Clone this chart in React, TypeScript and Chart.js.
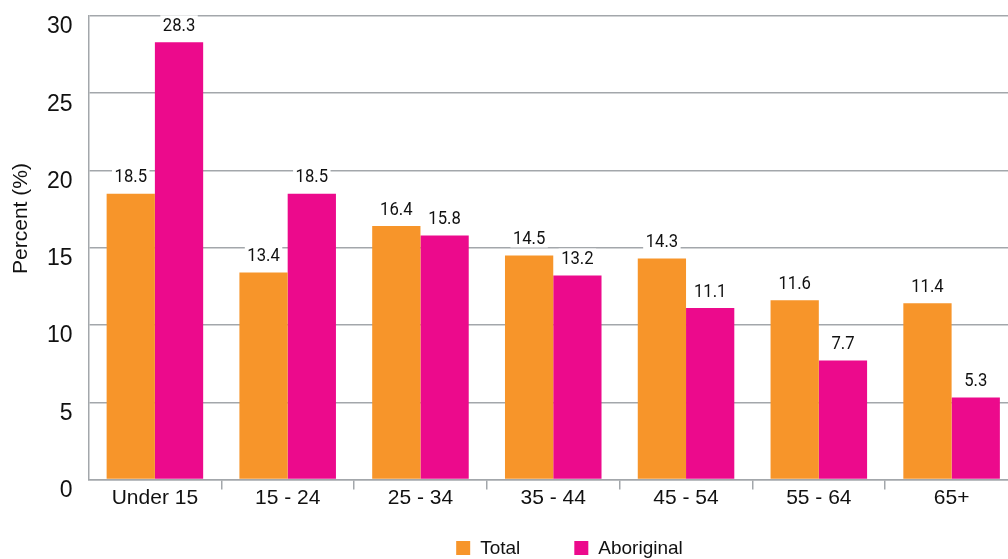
import React, { useEffect, useRef } from "react";
import { Chart, registerables } from "chart.js";

Chart.register(...registerables);

const categories = ["Under 15", "15 - 24", "25 - 34", "35 - 44", "45 - 54", "55 - 64", "65+"];
const totalValues = [18.5, 13.4, 16.4, 14.5, 14.3, 11.6, 11.4];
const aboriginalValues = [28.3, 18.5, 15.8, 13.2, 11.1, 7.7, 5.3];
const seriesNames = ["Total", "Aboriginal"];
const seriesColors = ["#F7952A", "#EC0A8C"];
const yMin = 0;
const yMax = 30;
const yStep = 5;
const yTitle = "Percent (%)";

const GRID = "#A3A7AB";
const TEXT = "#111111";
const SANS = "'Liberation Sans', Arial, sans-serif";

const valueLabelPlugin = {
  id: "valueLabels",
  afterDatasetsDraw(chart: any) {
    const ctx = chart.ctx;
    const sx = 0.9;
    chart.data.datasets.forEach((ds: any, di: number) => {
      const meta = chart.getDatasetMeta(di);
      meta.data.forEach((bar: any, i: number) => {
        const txt = Number(ds.data[i]).toFixed(1);
        ctx.save();
        ctx.font = "18.5px Roboto";
        ctx.textAlign = "center";
        ctx.textBaseline = "middle";
        const w = ctx.measureText(txt).width * sx + 5;
        const x = bar.x;
        const y = bar.y - 17;
        ctx.fillStyle = "#ffffff";
        ctx.fillRect(x - w / 2, y - 10, w, 19);
        ctx.translate(x, y + 1);
        ctx.scale(sx, 1);
        ctx.fillStyle = "#111111";
        ctx.fillText(txt, 0, 0);
        ctx.restore();
      });
    });
  },
};

const extrasPlugin = {
  id: "extras",
  afterDraw(chart: any) {
    const ctx = chart.ctx;
    const area = chart.chartArea;
    ctx.save();
    ctx.font = "21px " + SANS;
    ctx.fillStyle = TEXT;
    ctx.textAlign = "center";
    ctx.textBaseline = "middle";
    ctx.translate(21, area.top + (area.bottom - area.top) * 0.437);
    ctx.rotate(-Math.PI / 2);
    ctx.fillText(yTitle, 0, 0);
    ctx.restore();

    ctx.save();
    ctx.font = "19px " + SANS;
    ctx.textBaseline = "middle";
    ctx.textAlign = "left";
    const box = 14;
    const gapText = 10;
    const gapItems = 54;
    const widths = seriesNames.map((n) => box + gapText + ctx.measureText(n).width);
    const total = widths.reduce((a, b) => a + b, 0) + gapItems * (seriesNames.length - 1);
    let x = 569.5 - total / 2;
    const cy = 548;
    seriesNames.forEach((n, i) => {
      ctx.fillStyle = seriesColors[i];
      ctx.fillRect(x, cy - box / 2, box, box);
      ctx.fillStyle = TEXT;
      ctx.fillText(n, x + box + gapText, cy + 1);
      x += widths[i] + gapItems;
    });
    ctx.restore();
  },
};

export default function App() {
  const ref = useRef<HTMLCanvasElement | null>(null);

  useEffect(() => {
    if (!ref.current) return;
    const chart = new Chart(ref.current, {
      type: "bar",
      data: {
        labels: categories,
        datasets: [
          {
            label: seriesNames[0],
            data: totalValues,
            backgroundColor: seriesColors[0],
            categoryPercentage: 0.727,
            barPercentage: 1,
          },
          {
            label: seriesNames[1],
            data: aboriginalValues,
            backgroundColor: seriesColors[1],
            categoryPercentage: 0.727,
            barPercentage: 1,
          },
        ],
      },
      options: {
        responsive: false,
        animation: false,
        devicePixelRatio: 1,
        layout: { padding: { top: 16, right: 2, bottom: 39.5, left: 0 } },
        plugins: {
          legend: { display: false },
          tooltip: { enabled: false },
          title: { display: false },
        },
        scales: {
          x: {
            grid: {
              offset: true,
              drawOnChartArea: false,
              drawTicks: true,
              tickLength: 10,
              lineWidth: 1.5,
              color: (c: any) => (c.index === 0 ? "rgba(0,0,0,0)" : GRID),
            },
            border: { display: true, color: GRID, width: 1.5 },
            ticks: {
              color: TEXT,
              font: { family: SANS, size: 21 },
              padding: -4,
              maxRotation: 0,
              autoSkip: false,
            },
            afterFit: (s: any) => {
              s.height = 40;
              s.paddingLeft = 0;
              s.paddingRight = 0;
            },
          },
          y: {
            min: yMin,
            max: yMax,
            grid: {
              color: GRID,
              lineWidth: 1.5,
              drawTicks: false,
            },
            border: { display: true, color: GRID, width: 1.5 },
            ticks: {
              stepSize: yStep,
              color: TEXT,
              font: { family: SANS, size: 23 },
              padding: 16,
              labelOffset: 11,
            },
            afterFit: (s: any) => {
              s.width = 88.5;
              s.paddingTop = 0;
              s.paddingBottom = 0;
            },
          },
        },
      },
      plugins: [valueLabelPlugin, extrasPlugin],
    });
    return () => chart.destroy();
  }, []);

  return (
    <div
      style={{
        position: "fixed",
        left: 0,
        top: 0,
        width: 1008,
        height: 559,
        overflow: "hidden",
        background: "#ffffff",
      }}
    >
      <canvas ref={ref} width={1020} height={559} style={{ width: 1020, height: 559, display: "block" }} />
    </div>
  );
}
